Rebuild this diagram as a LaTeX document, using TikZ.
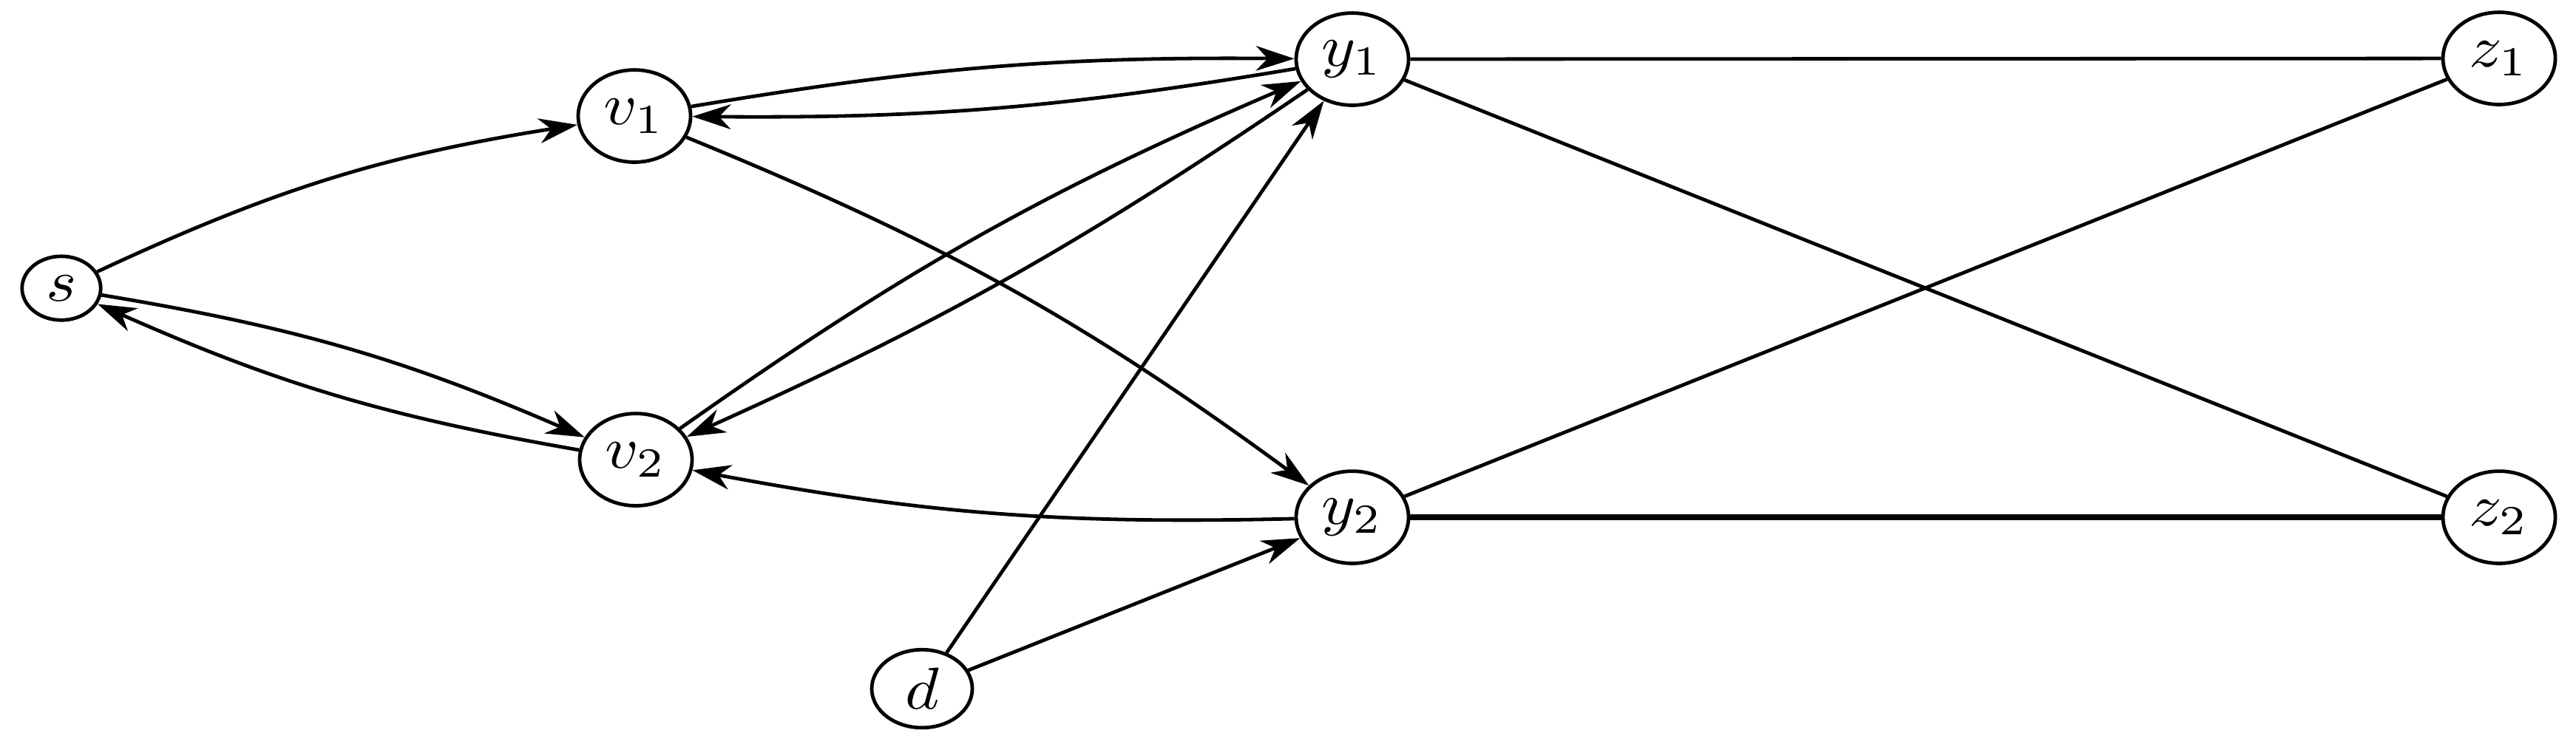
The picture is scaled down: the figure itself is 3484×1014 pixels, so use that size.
\documentclass[tikz,border=0pt]{standalone}
\usetikzlibrary{shapes.geometric,arrows.meta}
\newcommand{\vlab}[1]{\scalebox{1.1}[1]{$#1$}}
\begin{document}
\begin{tikzpicture}[x=0.125pt,y=0.125pt,
  vert/.style={draw, ellipse, line width=0.6pt, inner sep=0pt, fill=white,
               minimum width=19pt, minimum height=15.6pt},
  smallv/.style={minimum width=13.3pt, minimum height=10.8pt},
  midv/.style={minimum width=17pt, minimum height=13.2pt},
  arc/.style={-{Stealth[length=6.5pt,width=4.2pt,inset=2pt]}, line width=0.6pt},
  plain/.style={line width=0.6pt},
  thickplain/.style={line width=1pt}]
\useasboundingbox (0,0) rectangle (3484,-1014);
\node[vert,smallv] (s)  at (83,-390)   {\vlab{s}};
\node[vert] (v1) at (858,-157)  {\vlab{v_1}};
\node[vert] (v2) at (860,-622)  {\vlab{v_2}};
\node[vert] (y1) at (1829,-80)  {\vlab{y_1}};
\node[vert] (y2) at (1829,-700) {\vlab{y_2}};
\node[vert,midv] (d)  at (1247,-932) {\vlab{d}};
\node[vert] (z1) at (3380,-79)  {\vlab{z_1}};
\node[vert] (z2) at (3380,-700) {\vlab{z_2}};

\draw[arc] (s) to[bend left=8] (v1);
\draw[arc] (s) to[bend left=7] (v2);
\draw[arc] (v2) to[bend left=7] (s);
\draw[arc] (v1) to[bend left=5] (y1);
\draw[arc] (y1) to[bend left=5] (v1);
\draw[arc] (v1) to[bend left=7] (y2);
\draw[arc] (v2) to[bend left=6] (y1);
\draw[arc] (y1) to[bend left=5] (v2);
\draw[arc] (y2) to[bend left=6] (v2);
\draw[arc] (d) -- (y1);
\draw[arc] (d) -- (y2);
\draw[plain] (y1) -- (z1);
\draw[plain] (y1) -- (z2);
\draw[plain] (y2) -- (z1);
\draw[thickplain] (y2) -- (z2);
\end{tikzpicture}
\end{document}
